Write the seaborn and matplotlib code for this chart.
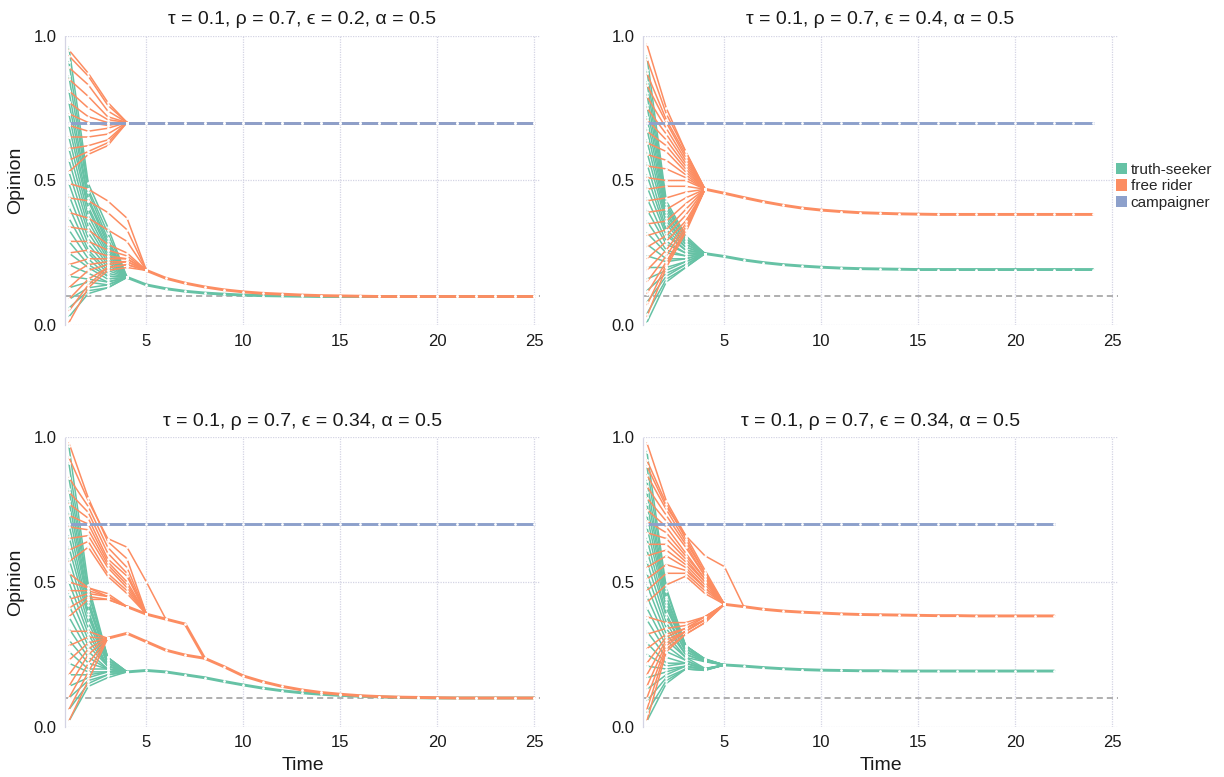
import matplotlib
matplotlib.use("Agg")
import pandas as pd
import matplotlib.pyplot as plt
from matplotlib.patches import Patch
import seaborn as sns

# ---------------- parameters / labels ----------------
TAU = 0.1
RHO = 0.7
ALPHA = 0.5
EPSILONS = [0.2, 0.4, 0.34, 0.34]
T_END = [25, 24, 25, 22]
GROUP_LABELS = ["truth-seeker", "free rider", "campaigner"]
COLORS = ["#66c2a5", "#fc8d62", "#8da0cb"]
X_TICKS = [5, 10, 15, 20, 25]
Y_TICKS = [0.0, 0.5, 1.0]
CAMPAIGNER_OPINION = 0.7

# ---------------- panel 1 (eps = 0.2) ----------------
P1_TS_T1 = [0.03, 0.06, 0.09, 0.13, 0.17, 0.21, 0.25, 0.29, 0.33, 0.37, 0.41, 0.45,
            0.49, 0.53, 0.57, 0.61, 0.65, 0.69, 0.73, 0.77, 0.81, 0.86, 0.91, 0.96]
P1_TS_T2 = [0.11, 0.12, 0.13, 0.15, 0.16, 0.18, 0.20, 0.21, 0.23, 0.25, 0.26, 0.28,
            0.30, 0.32, 0.34, 0.36, 0.38, 0.40, 0.41, 0.43, 0.44, 0.46, 0.47, 0.49]
P1_TS_T3 = [0.13, 0.13, 0.14, 0.14, 0.15, 0.15, 0.16, 0.17, 0.17, 0.18, 0.19, 0.20,
            0.21, 0.22, 0.23, 0.24, 0.25, 0.26, 0.27, 0.28, 0.29, 0.30, 0.32, 0.34]
P1_TS_PATH = [0.166, 0.14, 0.127, 0.118, 0.112, 0.108, 0.105, 0.103, 0.102, 0.101, 0.1,
              0.1, 0.1, 0.1, 0.1, 0.1, 0.1, 0.1, 0.1, 0.1, 0.1, 0.1]          # t = 4..25
P1_FRL_T1 = [0.01, 0.05, 0.09, 0.13, 0.17, 0.21, 0.25, 0.29, 0.34, 0.39, 0.44, 0.49]
P1_FRL_T2 = [0.13, 0.14, 0.16, 0.19, 0.21, 0.23, 0.26, 0.29, 0.33, 0.37, 0.43, 0.47]
P1_FRL_T3 = [0.19, 0.20, 0.20, 0.21, 0.22, 0.23, 0.24, 0.26, 0.28, 0.33, 0.39, 0.43]
P1_FRL_T4 = [0.20, 0.21, 0.21, 0.22, 0.22, 0.23, 0.23, 0.24, 0.25, 0.29, 0.33, 0.37]
P1_FRL_PATH = [0.19, 0.163, 0.146, 0.133, 0.123, 0.116, 0.111, 0.108, 0.105, 0.103, 0.102,
               0.101, 0.1, 0.1, 0.1, 0.1, 0.1, 0.1, 0.1, 0.1, 0.1]            # t = 5..25
P1_FRH_T1 = [0.53, 0.57, 0.61, 0.65, 0.69, 0.73, 0.77, 0.81, 0.85, 0.89, 0.93, 0.95]
P1_FRH_T2 = [0.59, 0.60, 0.62, 0.65, 0.67, 0.70, 0.72, 0.75, 0.79, 0.83, 0.86, 0.87]
P1_FRH_T3 = [0.62, 0.63, 0.64, 0.66, 0.68, 0.69, 0.70, 0.71, 0.72, 0.74, 0.76, 0.77]
P1_FRH_PATH = [0.7, 0.7, 0.7, 0.7, 0.7, 0.7, 0.7, 0.7, 0.7, 0.7, 0.7,
               0.7, 0.7, 0.7, 0.7, 0.7, 0.7, 0.7, 0.7, 0.7, 0.7, 0.7]          # t = 4..25

# ---------------- panel 2 (eps = 0.4) ----------------
P2_TS_T1 = [0.01, 0.04, 0.08, 0.12, 0.16, 0.20, 0.24, 0.28, 0.32, 0.36, 0.40, 0.44,
            0.48, 0.52, 0.56, 0.60, 0.64, 0.68, 0.72, 0.76, 0.80, 0.84, 0.88, 0.93]
P2_TS_T2 = [0.15, 0.16, 0.17, 0.18, 0.19, 0.20, 0.22, 0.23, 0.25, 0.26, 0.28, 0.29,
            0.31, 0.32, 0.33, 0.35, 0.36, 0.37, 0.38, 0.39, 0.40, 0.41, 0.42, 0.43]
P2_TS_T3 = [0.20, 0.20, 0.21, 0.21, 0.22, 0.22, 0.23, 0.23, 0.24, 0.24, 0.25, 0.25,
            0.26, 0.26, 0.27, 0.27, 0.28, 0.28, 0.29, 0.29, 0.30, 0.30, 0.30, 0.31]
P2_TS_PATH = [0.248, 0.238, 0.226, 0.217, 0.21, 0.205, 0.201, 0.198, 0.196, 0.195, 0.194,
              0.193, 0.193, 0.193, 0.193, 0.193, 0.193, 0.193, 0.193, 0.193, 0.193]  # t = 4..24
P2_FR_T1 = [0.03, 0.07, 0.11, 0.15, 0.19, 0.23, 0.27, 0.31, 0.35, 0.39, 0.43, 0.47,
            0.51, 0.55, 0.59, 0.63, 0.67, 0.71, 0.75, 0.79, 0.83, 0.87, 0.92, 0.97]
P2_FR_T2 = [0.20, 0.21, 0.22, 0.24, 0.26, 0.29, 0.31, 0.33, 0.36, 0.40, 0.44, 0.48,
            0.50, 0.54, 0.57, 0.60, 0.62, 0.64, 0.66, 0.68, 0.70, 0.71, 0.73, 0.75]
P2_FR_T3 = [0.32, 0.33, 0.33, 0.34, 0.35, 0.36, 0.38, 0.40, 0.42, 0.44, 0.46, 0.48,
            0.50, 0.51, 0.52, 0.53, 0.54, 0.55, 0.56, 0.57, 0.58, 0.59, 0.60, 0.60]
P2_FR_PATH = [0.47, 0.456, 0.441, 0.427, 0.415, 0.405, 0.398, 0.393, 0.389, 0.387, 0.385,
              0.384, 0.383, 0.383, 0.383, 0.383, 0.383, 0.383, 0.383, 0.383, 0.383]  # t = 4..24

# ---------------- panel 3 (eps = 0.34) ----------------
P3_TS_T1 = [0.02, 0.06, 0.10, 0.14, 0.18, 0.22, 0.26, 0.30, 0.34, 0.38, 0.42, 0.46,
            0.50, 0.54, 0.58, 0.62, 0.66, 0.70, 0.74, 0.78, 0.82, 0.86, 0.91, 0.97]
P3_TS_T2 = [0.14, 0.15, 0.16, 0.17, 0.18, 0.19, 0.20, 0.22, 0.24, 0.26, 0.28, 0.30,
            0.32, 0.34, 0.36, 0.38, 0.39, 0.40, 0.42, 0.43, 0.44, 0.46, 0.47, 0.49]
P3_TS_T3 = [0.17, 0.18, 0.18, 0.19, 0.19, 0.19, 0.20, 0.20, 0.20, 0.20, 0.21, 0.21,
            0.21, 0.21, 0.22, 0.22, 0.22, 0.22, 0.23, 0.23, 0.23, 0.24, 0.24, 0.24]
P3_TS_PATH = [0.19, 0.195, 0.19, 0.18, 0.17, 0.157, 0.145, 0.134, 0.125, 0.118, 0.113,
              0.109, 0.106, 0.104, 0.102, 0.101, 0.1, 0.1, 0.1, 0.1, 0.1, 0.1]   # t = 4..25
P3_FRL_T1 = [0.02, 0.06, 0.10, 0.14, 0.18, 0.23, 0.28, 0.33]
P3_FRL_T2 = [0.16, 0.19, 0.22, 0.25, 0.27, 0.29, 0.31, 0.33]
P3_FRL_PATH = [0.306, 0.323, 0.294, 0.265, 0.248, 0.237, 0.208, 0.176, 0.156, 0.14, 0.128,
               0.119, 0.113, 0.108, 0.105, 0.103, 0.102, 0.101, 0.1, 0.1, 0.1, 0.1, 0.1]  # t = 3..25
P3_FRM_T1 = [0.38, 0.41, 0.44, 0.47, 0.50, 0.53]
P3_FRM_T2 = [0.44, 0.45, 0.46, 0.47, 0.48, 0.48]
P3_FRM_T3 = [0.44, 0.44, 0.45, 0.45, 0.45, 0.46]
P3_FRM_PATH = [0.415, 0.389, 0.372, 0.355]                                   # t = 4..7, then joins low path
P3_FRH_T1 = [0.57, 0.61, 0.65, 0.69, 0.73, 0.77, 0.81, 0.86, 0.98]
P3_FRH_T2 = [0.62, 0.64, 0.66, 0.68, 0.70, 0.72, 0.74, 0.76, 0.79]
P3_FRH_T3 = [0.52, 0.53, 0.55, 0.56, 0.57, 0.58, 0.60, 0.62, 0.64]
P3_FRH_T4 = [0.46, 0.47, 0.48, 0.49, 0.50, 0.52, 0.53, 0.55, 0.58]
P3_FR_STRAY = [0.93, 0.78, 0.65, 0.62, 0.50]                                 # t = 1..5

# ---------------- panel 4 (eps = 0.34) ----------------
P4_TS_T1 = [0.02, 0.05, 0.09, 0.13, 0.17, 0.21, 0.25, 0.29, 0.33, 0.37, 0.41, 0.45,
            0.49, 0.53, 0.57, 0.61, 0.65, 0.69, 0.73, 0.77, 0.81, 0.85, 0.90, 0.95]
P4_TS_T2 = [0.15, 0.16, 0.17, 0.18, 0.19, 0.20, 0.21, 0.22, 0.24, 0.26, 0.28, 0.30,
            0.32, 0.34, 0.36, 0.38, 0.39, 0.41, 0.42, 0.43, 0.44, 0.45, 0.47, 0.48]
P4_TS_T3 = [0.20, 0.20, 0.20, 0.21, 0.21, 0.21, 0.22, 0.22, 0.22, 0.23, 0.23, 0.24,
            0.24, 0.25, 0.25, 0.26, 0.26, 0.27, 0.27, 0.27, 0.28, 0.28, 0.28, 0.28]
P4_TS_T4 = [0.195, 0.196, 0.197, 0.197, 0.198, 0.198, 0.199, 0.2, 0.2, 0.2, 0.201, 0.202,
            0.225, 0.226, 0.227, 0.228, 0.229, 0.23, 0.23, 0.231, 0.232, 0.233, 0.234, 0.235]
P4_TS_PATH = [0.214, 0.21, 0.205, 0.201, 0.198, 0.196, 0.195, 0.194, 0.194, 0.193, 0.193,
              0.193, 0.193, 0.193, 0.193, 0.193, 0.193, 0.193]                 # t = 5..22
P4_FRL_T1 = [0.02, 0.06, 0.10, 0.14, 0.18, 0.22, 0.27, 0.32, 0.38]
P4_FRL_T2 = [0.26, 0.27, 0.28, 0.29, 0.30, 0.31, 0.32, 0.34, 0.36]
P4_FRL_T3 = [0.32, 0.32, 0.33, 0.33, 0.33, 0.34, 0.34, 0.35, 0.36]
P4_FRL_T4 = [0.36, 0.36, 0.37, 0.37, 0.37, 0.37, 0.38, 0.38, 0.38]
P4_FRH_T1 = [0.43, 0.47, 0.51, 0.55, 0.59, 0.63, 0.67, 0.71, 0.75, 0.79, 0.83, 0.87, 0.92, 0.98]
P4_FRH_T2 = [0.49, 0.53, 0.56, 0.59, 0.61, 0.63, 0.65, 0.67, 0.69, 0.71, 0.73, 0.75, 0.77, 0.78]
P4_FRH_T3 = [0.52, 0.53, 0.54, 0.55, 0.56, 0.57, 0.58, 0.59, 0.60, 0.62, 0.63, 0.64, 0.65, 0.66]
P4_FRH_T4 = [0.46, 0.47, 0.48, 0.48, 0.49, 0.50, 0.50, 0.51, 0.51, 0.52, 0.52, 0.53, 0.53, 0.54]
P4_FR_STRAY = [0.90, 0.76, 0.66, 0.59, 0.553]                                # t = 1..5
P4_FR_PATH = [0.423, 0.415, 0.406, 0.4, 0.396, 0.393, 0.39, 0.388, 0.387, 0.386, 0.385,
              0.384, 0.384, 0.383, 0.383, 0.383, 0.383, 0.383]                 # t = 5..22

# ---------------- assemble long-form data ----------------
records = []
dots = []
agent_id = [0]


def add_line(panel, group, times, values, width):
    aid = agent_id[0]
    agent_id[0] += 1
    for t, v in zip(times, values):
        records.append(dict(panel=panel, group=group, agent=aid, width=width, time=t, opinion=v))
        dots.append(dict(panel=panel, time=t, opinion=v))


def path(panel, group, start, values, into=None):
    """Thick shared trajectory starting at time `start`; optionally merges into another path."""
    times = list(range(start, start + len(values)))
    vals = list(values)
    if into is not None:
        jstart, jvals = into
        t_next = times[-1] + 1
        times.append(t_next)
        vals.append(jvals[t_next - jstart])
    add_line(panel, group, times, vals, "thick")
    return (start, values)


def bundle(panel, group, cols, target):
    """Individual agents: values at t = 1..k, then join target path at t = k+1."""
    start, pvals = target
    k = len(cols)
    for i in range(len(cols[0])):
        vals = [c[i] for c in cols] + [pvals[k + 1 - start]]
        add_line(panel, group, list(range(1, k + 2)), vals, "thin")


TS, FR, CP = GROUP_LABELS

# panel 1
p = path(0, TS, 4, P1_TS_PATH)
bundle(0, TS, [P1_TS_T1, P1_TS_T2, P1_TS_T3], p)
p = path(0, FR, 5, P1_FRL_PATH)
bundle(0, FR, [P1_FRL_T1, P1_FRL_T2, P1_FRL_T3, P1_FRL_T4], p)
p = path(0, FR, 4, P1_FRH_PATH)
bundle(0, FR, [P1_FRH_T1, P1_FRH_T2, P1_FRH_T3], p)
# panel 2
p = path(1, TS, 4, P2_TS_PATH)
bundle(1, TS, [P2_TS_T1, P2_TS_T2, P2_TS_T3], p)
p = path(1, FR, 4, P2_FR_PATH)
bundle(1, FR, [P2_FR_T1, P2_FR_T2, P2_FR_T3], p)
# panel 3
p = path(2, TS, 4, P3_TS_PATH)
bundle(2, TS, [P3_TS_T1, P3_TS_T2, P3_TS_T3], p)
low = path(2, FR, 3, P3_FRL_PATH)
bundle(2, FR, [P3_FRL_T1, P3_FRL_T2], low)
mid = path(2, FR, 4, P3_FRM_PATH, into=low)
bundle(2, FR, [P3_FRM_T1, P3_FRM_T2, P3_FRM_T3], mid)
bundle(2, FR, [P3_FRH_T1, P3_FRH_T2, P3_FRH_T3, P3_FRH_T4], mid)
bundle(2, FR, [[v] for v in P3_FR_STRAY], mid)
# panel 4
p = path(3, TS, 5, P4_TS_PATH)
bundle(3, TS, [P4_TS_T1, P4_TS_T2, P4_TS_T3, P4_TS_T4], p)
p = path(3, FR, 5, P4_FR_PATH)
bundle(3, FR, [P4_FRL_T1, P4_FRL_T2, P4_FRL_T3, P4_FRL_T4], p)
bundle(3, FR, [P4_FRH_T1, P4_FRH_T2, P4_FRH_T3, P4_FRH_T4], p)
bundle(3, FR, [[v] for v in P4_FR_STRAY], p)
# campaigners
for i, te in enumerate(T_END):
    add_line(i, CP, list(range(1, te + 1)), [CAMPAIGNER_OPINION] * te, "thick")

df = pd.DataFrame(records)
dots_df = pd.DataFrame(dots)

# ---------------- plotting ----------------
sns.set_theme(style="white")
plt.rcParams["font.family"] = ["Liberation Sans", "DejaVu Sans"]

fig = plt.figure(figsize=(12.24, 7.77), dpi=100)
W, H = 1224, 777
boxes = [(65, 35.5), (643, 35.5), (65, 437), (643, 437)]
AW, AH = 475, 290
GRID_C = "#d4d4e4"
WIDTHS = {"thin": 1.1, "thick": 2.1}

for i, (x0, y0) in enumerate(boxes):
    ax = fig.add_axes([x0 / W, 1 - (y0 + AH) / H, AW / W, AH / H])
    sub = df[df.panel == i]
    ax.axhline(TAU, color="#9a9a9a", lw=1.1, ls=(0, (4, 2.6)), zorder=1)
    for g, col in zip(GROUP_LABELS, COLORS):
        for wname in ["thin", "thick"]:
            s = sub[(sub.group == g) & (sub.width == wname)]
            if len(s) == 0:
                continue
            sns.lineplot(data=s, x="time", y="opinion", units="agent", estimator=None,
                         color=col, lw=WIDTHS[wname], ax=ax, legend=False, zorder=3)
    dsub = dots_df[dots_df.panel == i]
    sns.scatterplot(data=dsub, x="time", y="opinion", color="white", s=4,
                    linewidth=0, ax=ax, legend=False, zorder=6)

    ax.set_xlim(0.8, 25.3)
    ax.set_ylim(0, 1)
    ax.set_xticks(X_TICKS)
    ax.set_yticks(Y_TICKS)
    ax.set_yticklabels([f"{v:.1f}" for v in Y_TICKS])
    ax.grid(True, ls=(0, (1, 1)), color=GRID_C, lw=0.9)
    for side in ["top", "right", "bottom"]:
        ax.spines[side].set_visible(False)
    ax.spines["left"].set_color(GRID_C)
    ax.spines["left"].set_linestyle((0, (1, 1)))
    ax.spines["left"].set_linewidth(0.9)
    ax.tick_params(length=0, labelsize=12, pad=6, colors="#1a1a1a")
    ax.set_title(f"τ = {TAU}, ρ = {RHO}, ϵ = {EPSILONS[i]}, α = {ALPHA}",
                 fontsize=14, pad=8, color="#1a1a1a")
    ax.set_xlabel("Time" if i >= 2 else "", fontsize=14, labelpad=5, color="#1a1a1a")
    ax.set_ylabel("Opinion" if i % 2 == 0 else "", fontsize=14, labelpad=7, color="#1a1a1a")

handles = [Patch(facecolor=c, edgecolor="none", label=l) for c, l in zip(COLORS, GROUP_LABELS)]
fig.legend(handles=handles, loc="upper left", bbox_to_anchor=(1116 / W, 1 - 163 / H),
           frameon=False, fontsize=11, handlelength=0.75, handleheight=0.75,
           handletextpad=0.2, labelspacing=0.15, borderpad=0, borderaxespad=0)

fig.savefig("out.png", dpi=100)
